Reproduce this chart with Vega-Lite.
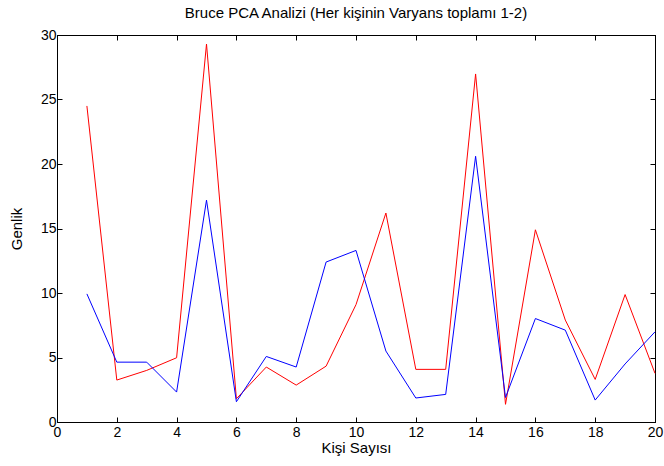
{
  "$schema": "https://vega.github.io/schema/vega-lite/v6.json",
  "autosize": "none",
  "width": 598,
  "height": 387,
  "padding": {"left": 57, "top": 35, "right": 9, "bottom": 44},
  "background": "white",
  "config": {
    "font": "Liberation Sans",
    "view": {"stroke": "black", "strokeWidth": 1},
    "axis": {
      "grid": false,
      "domainColor": "black",
      "tickColor": "black",
      "tickSize": -5,
      "labelFont": "Liberation Sans",
      "labelFontSize": 14,
      "labelColor": "black",
      "titleFont": "Liberation Sans",
      "titleFontSize": 15,
      "titleFontWeight": "normal",
      "titleColor": "black"
    }
  },
  "title": {
    "text": "Bruce PCA Analizi (Her kişinin Varyans toplamı 1-2)",
    "font": "Liberation Sans",
    "fontSize": 15,
    "fontWeight": "normal",
    "color": "black",
    "offset": 7
  },
  "data": {
    "values": [
      {"kisi": 1, "genlik": 24.5, "seri": "kirmizi"},
      {"kisi": 2, "genlik": 3.25, "seri": "kirmizi"},
      {"kisi": 3, "genlik": 4.0, "seri": "kirmizi"},
      {"kisi": 4, "genlik": 4.98, "seri": "kirmizi"},
      {"kisi": 5, "genlik": 29.3, "seri": "kirmizi"},
      {"kisi": 6, "genlik": 1.8, "seri": "kirmizi"},
      {"kisi": 7, "genlik": 4.26, "seri": "kirmizi"},
      {"kisi": 8, "genlik": 2.86, "seri": "kirmizi"},
      {"kisi": 9, "genlik": 4.33, "seri": "kirmizi"},
      {"kisi": 10, "genlik": 9.1, "seri": "kirmizi"},
      {"kisi": 11, "genlik": 16.2, "seri": "kirmizi"},
      {"kisi": 12, "genlik": 4.08, "seri": "kirmizi"},
      {"kisi": 13, "genlik": 4.08, "seri": "kirmizi"},
      {"kisi": 14, "genlik": 26.98, "seri": "kirmizi"},
      {"kisi": 15, "genlik": 1.37, "seri": "kirmizi"},
      {"kisi": 16, "genlik": 14.9, "seri": "kirmizi"},
      {"kisi": 17, "genlik": 7.9, "seri": "kirmizi"},
      {"kisi": 18, "genlik": 3.3, "seri": "kirmizi"},
      {"kisi": 19, "genlik": 9.88, "seri": "kirmizi"},
      {"kisi": 20, "genlik": 3.77, "seri": "kirmizi"},
      {"kisi": 1, "genlik": 9.93, "seri": "mavi"},
      {"kisi": 2, "genlik": 4.64, "seri": "mavi"},
      {"kisi": 3, "genlik": 4.64, "seri": "mavi"},
      {"kisi": 4, "genlik": 2.32, "seri": "mavi"},
      {"kisi": 5, "genlik": 17.2, "seri": "mavi"},
      {"kisi": 6, "genlik": 1.57, "seri": "mavi"},
      {"kisi": 7, "genlik": 5.08, "seri": "mavi"},
      {"kisi": 8, "genlik": 4.26, "seri": "mavi"},
      {"kisi": 9, "genlik": 12.4, "seri": "mavi"},
      {"kisi": 10, "genlik": 13.3, "seri": "mavi"},
      {"kisi": 11, "genlik": 5.5, "seri": "mavi"},
      {"kisi": 12, "genlik": 1.86, "seri": "mavi"},
      {"kisi": 13, "genlik": 2.14, "seri": "mavi"},
      {"kisi": 14, "genlik": 20.6, "seri": "mavi"},
      {"kisi": 15, "genlik": 1.9, "seri": "mavi"},
      {"kisi": 16, "genlik": 8.02, "seri": "mavi"},
      {"kisi": 17, "genlik": 7.12, "seri": "mavi"},
      {"kisi": 18, "genlik": 1.7, "seri": "mavi"},
      {"kisi": 19, "genlik": 4.5, "seri": "mavi"},
      {"kisi": 20, "genlik": 6.99, "seri": "mavi"}
    ]
  },
  "layer": [
    {
      "transform": [{"filter": "datum.seri === 'kirmizi'"}],
      "mark": {"type": "line", "color": "#ff0000", "strokeWidth": 1},
      "encoding": {
        "x": {
          "field": "kisi", "type": "quantitative",
          "scale": {"domain": [0, 20], "nice": false, "zero": false},
          "axis": {"title": "Kişi Sayısı", "values": [0, 2, 4, 6, 8, 10, 12, 14, 16, 18, 20], "labelPadding": 8, "titlePadding": 1, "labelFlush": false}
        },
        "y": {
          "field": "genlik", "type": "quantitative",
          "scale": {"domain": [0, 30], "nice": false},
          "axis": {"title": "Genlik", "values": [0, 5, 10, 15, 20, 25, 30], "labelPadding": 6, "titlePadding": 16, "labelFlush": false}
        }
      }
    },
    {
      "transform": [{"filter": "datum.seri === 'mavi'"}],
      "mark": {"type": "line", "color": "#0000ff", "strokeWidth": 1},
      "encoding": {
        "x": {
          "field": "kisi", "type": "quantitative",
          "scale": {"domain": [0, 20], "nice": false, "zero": false},
          "axis": {"orient": "top", "title": null, "labels": false, "values": [0, 2, 4, 6, 8, 10, 12, 14, 16, 18, 20]}
        },
        "y": {
          "field": "genlik", "type": "quantitative",
          "scale": {"domain": [0, 30], "nice": false},
          "axis": {"orient": "right", "title": null, "labels": false, "values": [0, 5, 10, 15, 20, 25, 30]}
        }
      }
    }
  ],
  "resolve": {"axis": {"x": "independent", "y": "independent"}}
}
